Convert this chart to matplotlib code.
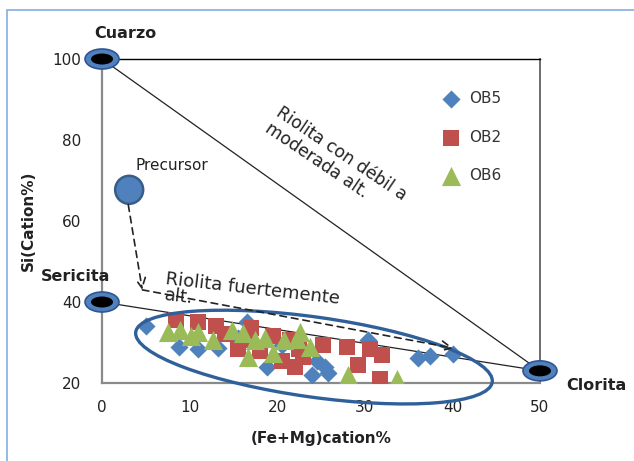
import numpy as np
import matplotlib
matplotlib.use("Agg")
import matplotlib.pyplot as plt
from matplotlib import transforms
from matplotlib.patches import Ellipse, Rectangle

plt.rcParams["font.family"] = ["DejaVu Sans"]

# sample series, (Fe+Mg) cation% vs Si cation%
ob5_x = [5.0, 8.8, 11.0, 13.2, 15.5, 16.5, 18.8, 20.5, 24.0, 24.5, 25.5, 25.8, 30.4, 36.1, 37.4, 40.1]
ob5_y = [34.0, 29.0, 28.3, 28.7, 31.0, 35.0, 24.0, 29.5, 22.0, 25.5, 24.0, 22.5, 30.6, 26.2, 26.7, 27.2]

ob2_x = [8.5, 11.0, 13.0, 14.0, 15.5, 16.5, 17.0, 18.0, 19.5, 20.5, 21.5, 22.0, 22.5, 23.0,
         25.2, 28.0, 29.2, 30.6, 32.0, 31.7]
ob2_y = [35.5, 35.0, 34.0, 32.0, 28.5, 30.5, 33.5, 28.0, 31.5, 25.5, 30.5, 24.0, 28.5, 26.5,
         29.5, 29.0, 24.5, 28.5, 27.0, 21.0]

ob6_x = [7.5, 8.9, 10.2, 11.0, 12.7, 14.8, 16.1, 16.7, 17.5, 18.6, 19.5, 20.8, 22.3, 22.6,
         23.7, 28.1, 33.7]
ob6_y = [32.5, 33.0, 31.5, 32.5, 30.5, 33.0, 32.3, 26.5, 30.5, 31.0, 27.5, 30.5, 30.8, 32.5,
         28.8, 22.0, 21.0]

# end members and precursor
cuarzo = (0.0, 100.0)
sericita = (0.0, 40.0)
clorita = (50.0, 23.0)
precursor = (3.1, 67.7)

# alteration path (precursor -> sericita side -> clorita side)
path_x = [3.0, 4.6, 40.1]
path_y = [64.0, 43.0, 28.6]

fig = plt.figure(figsize=(6.34, 4.61), dpi=100)
ax = fig.add_axes([0.1609, 0.1692, 0.6908, 0.7028])
ax.set_xlim(0, 50)
ax.set_ylim(20, 100)
ax.set_xticks([0, 10, 20, 30, 40, 50])
ax.set_yticks([20, 40, 60, 80, 100])
ax.tick_params(length=0, labelsize=11, labelcolor="#222222")
ax.tick_params(axis="x", pad=12)
ax.tick_params(axis="y", pad=15)
for side in ("left", "bottom"):
    ax.spines[side].set_color("#8a8a8a")
    ax.spines[side].set_linewidth(1.6)
ax.spines["top"].set_color("black")
ax.spines["top"].set_linewidth(1.0)
ax.spines["right"].set_color("#555555")
ax.spines["right"].set_linewidth(1.2)

ax.set_xlabel("(Fe+Mg)cation%", fontsize=11, fontweight="bold", color="#222222", labelpad=12)
ax.set_ylabel("Si(Cation%)", fontsize=11, fontweight="bold", color="#222222", labelpad=12)

# tie lines to clorita
ax.plot([cuarzo[0], clorita[0]], [cuarzo[1], clorita[1]], color="#222222", lw=0.9, zorder=2)
ax.plot([sericita[0], clorita[0]], [sericita[1], clorita[1]], color="#222222", lw=0.9, zorder=2)

# data series
ax.scatter(ob5_x, ob5_y, marker="D", s=85, color="#4F81BD", lw=0, label="OB5", zorder=3)
ax.scatter(ob2_x, ob2_y, marker="s", s=140, color="#C0504D", lw=0, label="OB2", zorder=4)
ax.scatter(ob6_x, ob6_y, marker="^", s=190, color="#9BBB59", lw=0, label="OB6", zorder=5)


def px_ellipse(xy, w, h, angle=0, **kw):
    # ellipse sized in inches, centred on a data point
    trans = fig.dpi_scale_trans + transforms.ScaledTranslation(xy[0], xy[1], ax.transData)
    e = Ellipse((0, 0), w, h, angle=angle, transform=trans, clip_on=False, **kw)
    ax.add_patch(e)
    return e


# end member markers
for pt in (cuarzo, sericita, clorita):
    px_ellipse(pt, 0.34, 0.20, facecolor="#4F81BD", edgecolor="#2F5597", lw=1.2, zorder=6)
    px_ellipse(pt, 0.22, 0.11, facecolor="black", edgecolor="none", zorder=7)

px_ellipse(precursor, 0.28, 0.28, facecolor="#4F81BD", edgecolor="#385D8A", lw=1.8, zorder=6)

# field of strongly altered samples
px_ellipse((24.2, 26.4), 3.6, 0.80, angle=-8, facecolor="none", edgecolor="#30609A", lw=2.4, zorder=8)

arrow = dict(arrowstyle="->", linestyle=(0, (4, 3)), color="#222222", lw=1.2,
             shrinkA=0, shrinkB=0, mutation_scale=18)
ax.annotate("", xy=(path_x[1], path_y[1]), xytext=(path_x[0], path_y[0]), arrowprops=arrow, zorder=9)
ax.annotate("", xy=(path_x[2], path_y[2]), xytext=(path_x[1], path_y[1]), arrowprops=arrow, zorder=9)

lab = dict(fontsize=11.5, fontweight="bold", color="#222222", ha="center", va="center")
ax.text(2.7, 106.4, "Cuarzo", **lab)
ax.text(-3.0, 46.2, "Sericita", **lab)
ax.text(56.4, 19.5, "Clorita", **lab)
ax.text(8.0, 73.6, "Precursor", fontsize=11, color="#222222", ha="center", va="center")

ax.text(7.4, 47.8, "Riolita fuertemente\nalt.", fontsize=13, color="#222222",
        ha="left", va="top", rotation=-6.5, rotation_mode="anchor", linespacing=0.85)
ax.text(20.6, 89.0, "Riolita con débil a\nmoderada alt.", fontsize=12.3, color="#222222",
        ha="left", va="top", rotation=-34, rotation_mode="anchor", linespacing=1.05)

ax.legend(loc="upper left", bbox_to_anchor=(0.745, 0.925), frameon=False, fontsize=11,
          labelspacing=1.55, handletextpad=0.2, borderpad=0, labelcolor="#333333")

# chart area border (left and top edges)
fig.add_artist(Rectangle((7 / 634, -0.2), 1.2, (461 - 10) / 461 + 0.2, transform=fig.transFigure,
                         facecolor="none", edgecolor="#8DB3E2", lw=1.3))

fig.savefig("out.png", dpi=100)
